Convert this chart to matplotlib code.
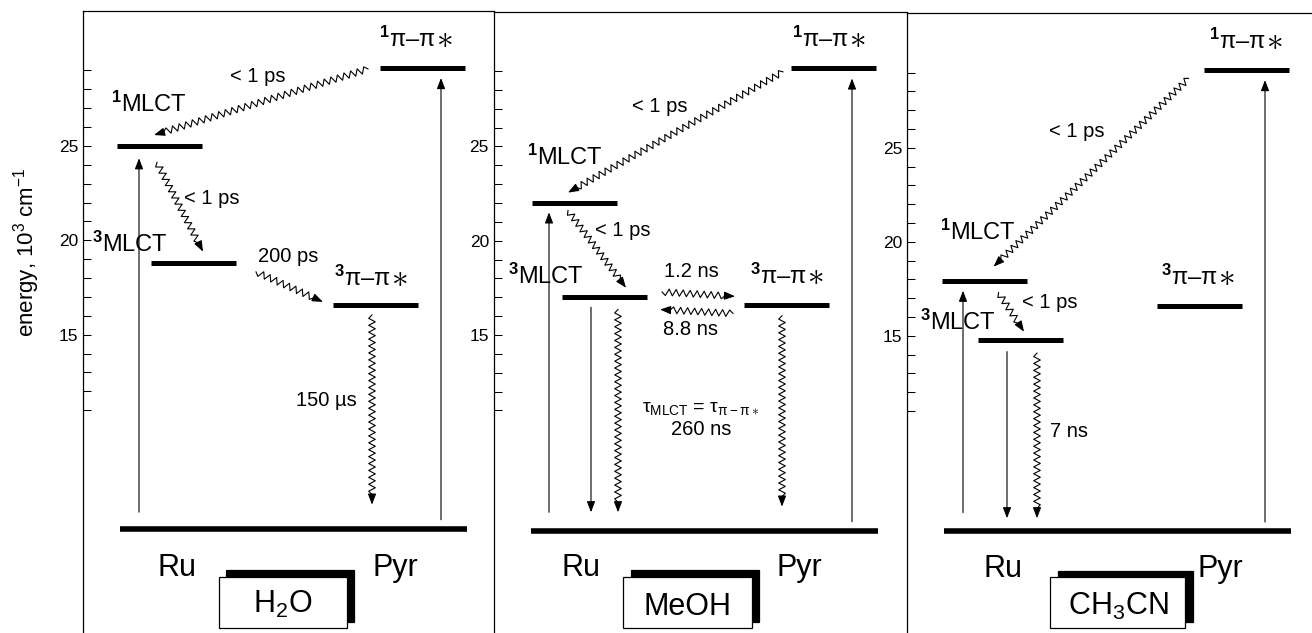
import numpy as np
import matplotlib
matplotlib.use('Agg')
import matplotlib.pyplot as plt
from matplotlib.patches import Rectangle

plt.rcParams['font.family'] = ['Liberation Sans', 'DejaVu Sans']
plt.rcParams['mathtext.fontset'] = 'custom'
plt.rcParams['mathtext.rm'] = 'Liberation Sans'
plt.rcParams['mathtext.it'] = 'Liberation Sans:italic'
plt.rcParams['mathtext.bf'] = 'Liberation Sans:bold'
plt.rcParams['mathtext.fallback'] = 'cm'

# energy levels in 10^3 cm^-1, one value per solvent
solvents = ['H$_2$O', 'MeOH', 'CH$_3$CN']
e_ground = [4.7, 4.6, 4.6]
e_1mlct = [25.0, 22.0, 17.9]
e_3mlct = [18.8, 17.0, 14.8]
e_3pp = [16.6, 16.6, 16.6]
e_1pp = [29.15, 29.15, 29.15]

# lifetimes written beside the transitions
t_1pp_1mlct = ['< 1 ps', '< 1 ps', '< 1 ps']
t_1mlct_3mlct = ['< 1 ps', '< 1 ps', '< 1 ps']
t_3mlct_3pp = ['200 ps', '1.2 ns', None]
t_3pp_3mlct = [None, '8.8 ns', None]
t_decay = ['150 µs', '260 ns', '7 ns']
tau_equal = [None, r'τ$_{\mathrm{MLCT}}$ = τ$_{\mathrm{π}-\mathrm{π}\ast}$', None]

yticks_major = [15, 20, 25]
yticks_minor = [e for e in range(11, 30) if e not in yticks_major]

lbl_1mlct = r'$^{\mathbf{1}}$MLCT'
lbl_3mlct = r'$^{\mathbf{3}}$MLCT'
lbl_1pp = r'$^{\mathbf{1}}$π–π'
lbl_3pp = r'$^{\mathbf{3}}$π–π'

# layout, in pixels (x measured from each panel's left spine)
FIG_W, FIG_H = 1312, 633
panel_left = [83, 494, 907]
panel_right = [494, 907, 1312]
panel_top = [11, 11.5, 13.3]
YLIM = (-0.8, 32.15)
BAR = 85
HEAD = '-|>,head_length=0.65,head_width=0.25'

layout = [
    dict(x_1mlct=34, x_3mlct=68, ru_up=56, ru_gap=(0.9, 0.65), pyr_gap=(0.5, 0.55),
         w1=((285, -0.07), (71, 0.58)), w2=((74, -0.87), (120, 0.6)),
         fwd=((173, 18.33), (240, 16.74)), back=None,
         down=None, down_w=None, pp_down=(289, 0.55, 1.3),
         l1mlct=(28, 1.8), l3mlct=(8.7, 0.6), l3pp=(287, 1.0), l1pp=332,
         t1=(175, 28.4, 'center'), t2=(101, 21.93, 'left'),
         tf=(205, 18.87), tb=None, td=(274, 11.23, 'right'), tau=None,
         ru=94.5, pyr=312, box=(136, 264), box_base=0.25),
    dict(x_1mlct=38, x_3mlct=68, ru_up=55, ru_gap=(1.0, 0.5), pyr_gap=(0.5, 0.55),
         w1=((289, -0.2), (74, 0.55)), w2=((74, -0.4), (132, 0.5)),
         fwd=((168, 17.28), (241, 17.05)), back=((239, 16.14), (166, 16.35)),
         down=(97, 0.53, 1.0), down_w=(124, 0.65, 1.0), pp_down=(288, 0.58, 1.3),
         l1mlct=(32.7, 2.0), l3mlct=(14.3, 0.7), l3pp=(292, 1.1), l1pp=334,
         t1=(166, 26.82, 'center'), t2=(101, 20.23, 'left'),
         tf=(197, 18.08), tb=(196.5, 14.99), td=(207, 9.69, 'center'), tau=(207, 10.93),
         ru=86.8, pyr=305, box=(129.3, 257.7), box_base=0.16),
    dict(x_1mlct=35, x_3mlct=71, ru_up=56, ru_gap=(1.0, 0.5), pyr_gap=(0.5, 0.55),
         w1=((281.6, -0.46), (86.6, 0.78)), w2=((91.6, -0.6), (117, 0.42)),
         fwd=None, back=None,
         down=(100, 0.64, 0.7), down_w=(130, 0.72, 0.7), pp_down=None,
         l1mlct=(32.6, 2.2), l3mlct=(13.3, 0.5), l3pp=(290, 1.1), l1pp=338,
         t1=(170, 25.59, 'center'), t2=(115, 16.47, 'left'),
         tf=None, tb=None, td=(143, 9.6, 'left'), tau=None,
         ru=95.5, pyr=313.3, box=(143.3, 278.3), box_base=0.16),
]


def arrow(ax, start, end):
    ax.annotate('', xy=end, xytext=start,
                arrowprops=dict(arrowstyle=HEAD, color='k', lw=0.8,
                                shrinkA=0, shrinkB=0, mutation_scale=10))


def wavy_arrow(ax, start, end, amp=3.3, period=6.8, head=10.0):
    # zigzag built in pixel space so it looks the same in every direction
    p0 = ax.transData.transform(start)
    p1 = ax.transData.transform(end)
    d = p1 - p0
    length = np.hypot(d[0], d[1])
    u = d / length
    n = np.array([-u[1], u[0]])
    run = length - head
    k = max(int(run / (period / 2)), 2)
    s = np.linspace(0, run, k + 1)
    side = np.where(np.arange(k + 1) % 2 == 0, 1.0, -1.0) * amp
    side[0] = 0
    side[-1] = 0
    pts = p0 + np.outer(s, u) + np.outer(side, n)
    xy = ax.transData.inverted().transform(pts)
    ax.plot(xy[:, 0], xy[:, 1], color='k', lw=0.8, clip_on=False)
    arrow(ax, tuple(xy[-1]), end)


def pp_label(ax, xc, y, text):
    # the star is drawn on its own so it can be as big as in the original
    t = ax.text(xc - 8, y, text, fontsize=17, va='baseline', ha='center')
    ax.annotate(r'$\ast$', xy=(1, 0), xycoords=t, xytext=(0.3, 3.6),
                textcoords='offset points', fontsize=24, ha='left', va='baseline')


fig = plt.figure(figsize=(FIG_W / 100, FIG_H / 100), dpi=100)

for i in range(3):
    L = layout[i]
    width = panel_right[i] - panel_left[i]
    ax = fig.add_axes([panel_left[i] / FIG_W, 0, width / FIG_W,
                       (FIG_H - panel_top[i]) / FIG_H])
    ax.set_xlim(0, width)
    ax.set_ylim(*YLIM)
    ax.spines[['right', 'bottom']].set_visible(False)
    for sp in ['left', 'top']:
        ax.spines[sp].set_linewidth(0.9)
    ax.set_xticks([])
    ax.set_yticks(yticks_major)
    ax.set_yticks(yticks_minor, minor=True)
    ax.tick_params(axis='y', which='both', direction='in', length=5.8, width=0.75,
                   labelsize=12.5, pad=3.6)

    g = e_ground[i]
    # levels
    ax.hlines(g, 37, 384, color='k', lw=4.0)
    ax.hlines(e_1mlct[i], L['x_1mlct'], L['x_1mlct'] + BAR, color='k', lw=3.6)
    ax.hlines(e_3mlct[i], L['x_3mlct'], L['x_3mlct'] + BAR, color='k', lw=3.6)
    ax.hlines(e_3pp[i], 250, 250 + BAR, color='k', lw=3.6)
    ax.hlines(e_1pp[i], 297, 297 + BAR, color='k', lw=3.6)

    # absorption
    arrow(ax, (L['ru_up'], g + L['ru_gap'][0]), (L['ru_up'], e_1mlct[i] - L['ru_gap'][1]))
    arrow(ax, (358, g + L['pyr_gap'][0]), (358, e_1pp[i] - L['pyr_gap'][1]))

    # conversions
    (xa, da), (xb, db) = L['w1']
    wavy_arrow(ax, (xa, e_1pp[i] + da), (xb, e_1mlct[i] + db))
    (xa, da), (xb, db) = L['w2']
    wavy_arrow(ax, (xa, e_1mlct[i] + da), (xb, e_3mlct[i] + db))
    if L['fwd']:
        wavy_arrow(ax, *L['fwd'])
    if L['back']:
        wavy_arrow(ax, *L['back'])

    # decays to the ground state
    if L['down']:
        x, top, bot = L['down']
        arrow(ax, (x, e_3mlct[i] - top), (x, g + bot))
    if L['down_w']:
        x, top, bot = L['down_w']
        wavy_arrow(ax, (x, e_3mlct[i] - top), (x, g + bot))
    if L['pp_down']:
        x, top, bot = L['pp_down']
        wavy_arrow(ax, (x, e_3pp[i] - top), (x, g + bot))

    # state labels
    ax.text(L['l1mlct'][0], e_1mlct[i] + L['l1mlct'][1], lbl_1mlct, fontsize=17, va='baseline')
    ax.text(L['l3mlct'][0], e_3mlct[i] + L['l3mlct'][1], lbl_3mlct, fontsize=17, va='baseline')
    pp_label(ax, L['l3pp'][0], e_3pp[i] + L['l3pp'][1], lbl_3pp)
    pp_label(ax, L['l1pp'], e_1pp[i] + 1.1, lbl_1pp)

    # lifetimes
    x, y, ha = L['t1']
    ax.text(x, y, t_1pp_1mlct[i], fontsize=14.5, va='baseline', ha=ha)
    x, y, ha = L['t2']
    ax.text(x, y, t_1mlct_3mlct[i], fontsize=14.5, va='baseline', ha=ha)
    if t_3mlct_3pp[i]:
        ax.text(*L['tf'], t_3mlct_3pp[i], fontsize=14.5, va='baseline', ha='center')
    if t_3pp_3mlct[i]:
        ax.text(*L['tb'], t_3pp_3mlct[i], fontsize=14.5, va='baseline', ha='center')
    x, y, ha = L['td']
    ax.text(x, y, t_decay[i], fontsize=14.5, va='baseline', ha=ha)
    if tau_equal[i]:
        ax.text(*L['tau'], tau_equal[i], fontsize=14, va='baseline', ha='center')

    # Ru / Pyr and the solvent box
    ax.text(L['ru'], 2.2, 'Ru', fontsize=22, va='baseline', ha='center')
    ax.text(L['pyr'], 2.2, 'Pyr', fontsize=22, va='baseline', ha='center')
    bx0, bx1 = L['box']
    ax.add_patch(Rectangle((bx0 + 7.5, -0.2), bx1 - bx0, 2.72, facecolor='k',
                           edgecolor='k', lw=0.9, clip_on=False))
    ax.add_patch(Rectangle((bx0, -0.55), bx1 - bx0, 2.72, facecolor='white',
                           edgecolor='k', lw=0.9, clip_on=False))
    ax.text((bx0 + bx1) / 2, L['box_base'], solvents[i], fontsize=22,
            va='baseline', ha='center')

fig.text(27 / FIG_W, 1 - 252 / FIG_H, 'energy, 10$^3$ cm$^{-1}$', fontsize=16,
         rotation=90, ha='center', va='center')

fig.savefig('out.png', dpi=100)
